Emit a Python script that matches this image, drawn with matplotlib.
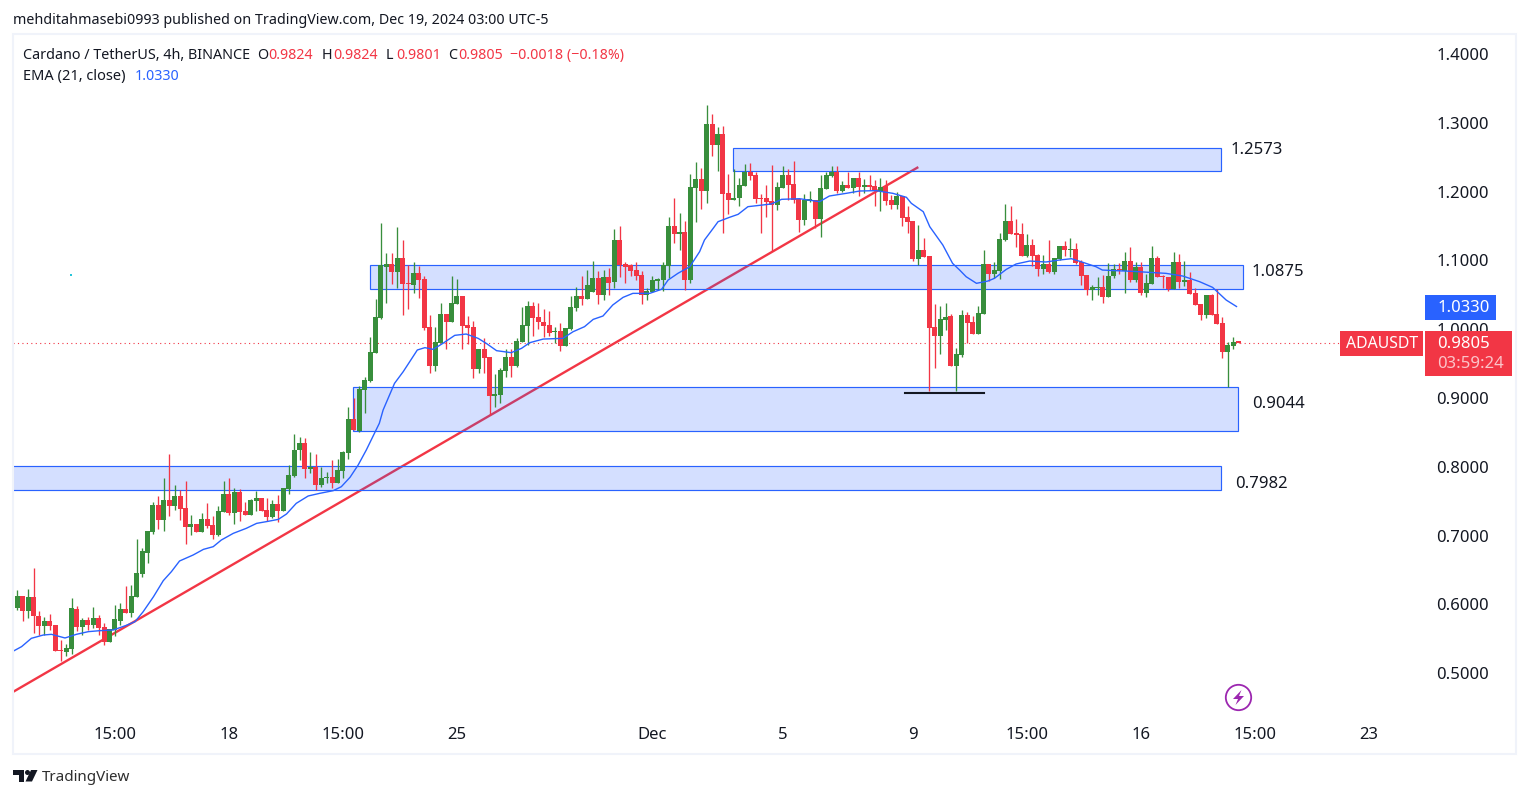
import numpy as np
import matplotlib
matplotlib.use("Agg")
import matplotlib.pyplot as plt
from matplotlib.patches import Rectangle, Circle, Polygon

plt.rcParams['font.family'] = ['Noto Sans', 'DejaVu Sans']

GREEN = '#388E3C'
RED = '#F23645'
BLUE = '#2962FF'
INK = '#131722'

opens = [.5952,.6122,.5909,.6103,.5836,.5686,.5754,.5701,.5333,.5308,
         .5351,.5933,.5671,.5768,.5701,.5802,.5671,.5454,.5628,.5759,
         .5933,.5875,.6107,.6442,.6747,.7052,.7445,.7227,.7517,.7430,
         .7576,.7401,.7125,.7169,.7052,.7241,.7154,.7009,.7343,.7605,
         .7328,.7634,.7358,.7299,.7503,.7546,.7372,.7270,.7459,.7358,
         .7677,.7866,.8244,.8346,.7968,.7997,.7735,.7837,.7852,.7765,
         .7939,.8201,.8695,.8520,.9116,.9247,.9654,1.0163,1.0904,1.0948,
         1.0831,1.1035,1.0671,1.0642,1.0817,1.0730,1.0032,.9465,.9799,1.0221,
         1.0105,1.0366,1.0483,1.0061,1.0032,.9421,.9712,.9596,.9029,.9044,
         .9393,.9596,.9465,.9814,1.0047,1.0337,1.0177,1.0105,1.0061,.9959,
         .9974,.9756,1.0003,1.0308,1.0483,1.0439,1.0541,1.0744,1.0497,1.0759,
         1.0686,1.1296,1.0948,1.0933,1.0860,1.0788,1.0497,1.0541,1.0701,1.0715,
         1.0919,1.1500,1.1384,1.1413,1.0715,1.2052,1.2183,1.2009,1.2983,1.2677,
         1.2837,1.1980,1.1878,1.1907,1.2081,1.2285,1.2241,1.1907,1.1907,1.1863,
         1.1805,1.2052,1.2241,1.2110,1.1892,1.1587,1.1863,1.1878,1.1602,1.2038,
         1.2227,1.2285,1.2009,1.2096,1.2052,1.2198,1.2067,1.2096,1.2081,1.2009,
         1.2081,1.1878,1.1805,1.1936,1.1631,1.1573,1.1020,1.1151,1.1064,1.0032,
         .9901,1.0134,1.0192,.9465,.9625,1.0206,1.0105,.9930,1.0221,1.0948,
         1.0802,1.0846,1.1297,1.1573,1.1398,1.1384,1.1064,1.1224,1.1078,1.0875,
         1.0948,1.0831,1.1020,1.1209,1.1151,1.1166,1.0977,1.0788,1.0570,1.0599,
         1.0613,1.0468,1.0773,1.0875,1.0846,1.0991,1.0715,1.0904,1.0526,1.0657,
         1.1035,1.0773,1.0759,1.0584,1.0977,1.0686,1.0715,1.0526,1.0366,1.0206,
         1.0497,1.0221,1.0090,.9668,.9756,.9824]
highs = [.6209,.6122,.6219,.6529,.5899,.5817,.5860,.5701,.5483,.5424,
         .6088,.5977,.5797,.5812,.5962,.5846,.5730,.5642,.5991,.6016,
         .6267,.6282,.6951,.6820,.7067,.7488,.7576,.7837,.8186,.7735,
         .7663,.7794,.7299,.7169,.7324,.7474,.7285,.7430,.7794,.7837,
         .7692,.7677,.7488,.7532,.7648,.7546,.7546,.7517,.7590,.7692,
         .8026,.8477,.8438,.8414,.8215,.8186,.7997,.7924,.8099,.8113,
         .8230,.8869,.9000,.9174,.9300,.9887,1.0439,1.1544,1.1108,1.1108,
         1.1486,1.1296,1.0933,1.0977,1.0919,1.0773,1.0206,1.0032,1.0381,1.0221,
         1.0773,1.0730,1.0483,1.0192,1.0119,.9712,.9872,.9596,.9349,.9436,
         .9712,.9712,.9872,1.0323,1.0410,1.0395,1.0381,1.0294,1.0265,1.0032,
         1.0090,1.0017,1.0483,1.0613,1.0773,1.0860,1.0991,1.0846,1.0860,1.0890,
         1.1456,1.1500,1.0977,1.0948,1.0977,1.0846,1.0599,1.0773,1.0744,1.0977,
         1.1631,1.1907,1.1689,1.1573,1.2256,1.2430,1.2343,1.3259,1.3128,1.2939,
         1.2954,1.2256,1.2329,1.2198,1.2401,1.2416,1.2285,1.1965,1.2096,1.2387,
         1.2140,1.2372,1.2329,1.2445,1.1892,1.1965,1.2009,1.1878,1.2241,1.2285,
         1.2372,1.2372,1.2154,1.2285,1.2198,1.2285,1.2183,1.2241,1.2169,1.2198,
         1.2169,1.1951,1.1994,1.1936,1.1791,1.1573,1.1515,1.1326,1.1064,1.0366,
         1.0337,1.0381,1.0221,.9727,1.0279,1.0250,1.0192,1.0337,1.1151,1.0948,
         1.0977,1.1398,1.1820,1.1791,1.1602,1.1544,1.1384,1.1311,1.1093,1.1078,
         1.1296,1.1035,1.1209,1.1282,1.1326,1.1253,1.1006,1.0788,1.0642,1.0759,
         1.0788,1.0962,1.0948,1.0962,1.1122,1.1195,1.0977,1.0977,1.0802,1.1209,
         1.1064,1.0788,1.0759,1.1122,1.1093,1.0991,1.0831,1.0599,1.0366,1.0497,
         1.0512,1.0584,1.0177,.9814,.9886,.9824]
lows = [.5919,.5759,.5807,.5589,.5555,.5550,.5628,.5328,.5177,.5250,
        .5284,.5613,.5555,.5628,.5652,.5555,.5410,.5454,.5541,.5701,
        .5875,.5817,.6107,.6398,.6602,.7023,.7096,.7067,.7285,.7372,
        .7227,.6878,.7009,.7052,.7052,.7110,.6951,.6994,.7343,.7299,
        .7169,.7212,.7299,.7299,.7358,.7358,.7212,.7256,.7198,.7358,
        .7605,.7852,.8099,.7837,.7910,.7663,.7706,.7760,.7692,.7765,
        .7837,.8113,.8535,.8506,.8782,.9233,.9654,1.0148,1.0381,1.0657,
        1.0599,1.0206,1.0294,1.0526,1.0454,.9988,.9363,.9393,.9799,.9712,
        1.0105,1.0366,.9712,.9785,.9291,.9363,.9363,.8753,.8869,.8927,
        .9305,.9305,.9451,.9814,.9770,.9901,1.0003,.9887,.9901,.9799,
        .9683,.9756,.9988,1.0265,1.0352,1.0439,1.0541,1.0366,1.0424,1.0497,
        1.0599,1.0759,1.0671,1.0773,1.0715,1.0366,1.0424,1.0541,1.0570,1.0555,
        1.0744,1.1253,1.1151,1.0570,1.0672,1.1558,1.1747,1.1834,1.2517,1.2299,
        1.1398,1.1674,1.1878,1.1791,1.2081,1.2169,1.1834,1.1398,1.1631,1.1137,
        1.1733,1.2052,1.1878,1.1834,1.1413,1.1515,1.1849,1.1471,1.1340,1.2038,
        1.2212,1.1980,1.1995,1.2052,1.1980,1.1936,1.1980,1.2023,1.1791,1.1718,
        1.1805,1.1747,1.1747,1.1500,1.1398,1.0991,1.0933,1.1049,.9102,.9436,
        .9640,.9988,.9465,.9102,.9596,.9794,.9930,.9930,1.0221,1.0701,
        1.0744,1.0730,1.1282,1.1384,1.1195,1.1064,1.1049,1.0919,1.0773,1.0802,
        1.0817,1.0802,1.1006,1.1064,1.1049,1.0948,1.0642,1.0497,1.0424,1.0497,
        1.0381,1.0468,1.0744,1.0802,1.0526,1.0686,1.0686,1.0497,1.0468,1.0657,
        1.0759,1.0599,1.0555,1.0584,1.0599,1.0628,1.0512,1.0352,1.0134,1.0163,
        1.0206,1.0076,.9581,.9160,.9712,.9801]
closes = [.6122,.5909,.6103,.5836,.5686,.5754,.5686,.5328,.5328,.5366,
          .5948,.5671,.5768,.5701,.5802,.5657,.5454,.5642,.5788,.5933,
          .5875,.6122,.6456,.6776,.7067,.7445,.7227,.7517,.7430,.7576,
          .7387,.7125,.7169,.7052,.7241,.7140,.7009,.7358,.7605,.7328,
          .7634,.7343,.7299,.7517,.7546,.7358,.7270,.7459,.7358,.7692,
          .7881,.8244,.8346,.7968,.7997,.7735,.7837,.7852,.7765,.7953,
          .8215,.8695,.8535,.9131,.9262,.9669,1.0177,1.0933,1.0948,1.0831,
          1.1035,1.0657,1.0657,1.0817,1.0715,1.0017,.9465,.9814,1.0221,1.0105,
          1.0381,1.0483,1.0047,1.0017,.9421,.9712,.9581,.9029,.9058,.9407,
          .9596,.9465,.9829,1.0061,1.0337,1.0163,1.0105,1.0047,.9945,.9974,
          .9756,1.0017,1.0323,1.0483,1.0439,1.0642,1.0744,1.0497,1.0759,1.0671,
          1.1296,1.0933,1.0904,1.0846,1.0773,1.0497,1.0555,1.0715,1.0730,1.0933,
          1.1500,1.1384,1.1413,1.0715,1.2067,1.2183,1.2009,1.2983,1.2677,1.2837,
          1.1965,1.1878,1.1907,1.2096,1.2285,1.2227,1.1892,1.1892,1.1849,1.1805,
          1.2067,1.2241,1.2096,1.1878,1.1587,1.1878,1.1892,1.1602,1.2052,1.2241,
          1.2285,1.2009,1.2096,1.2052,1.2198,1.2067,1.2096,1.2067,1.2009,1.2067,
          1.1863,1.1805,1.1936,1.1616,1.1558,1.1020,1.1151,1.1049,1.0017,.9901,
          1.0148,1.0177,.9465,.9640,1.0206,1.0090,.9930,1.0235,1.0948,1.0802,
          1.0860,1.1311,1.1573,1.1384,1.1369,1.1064,1.1224,1.1064,1.0875,1.0948,
          1.0831,1.1035,1.1209,1.1151,1.1166,1.0962,1.0773,1.0570,1.0613,1.0613,
          1.0468,1.0773,1.0875,1.0860,1.0991,1.0715,1.0904,1.0526,1.0671,1.1035,
          1.0759,1.0759,1.0584,1.0977,1.0686,1.0715,1.0512,1.0352,1.0206,1.0497,
          1.0206,1.0076,.9668,.9770,.9814,.9805]

# EMA at the bends of the line
ema_x = [-0.7,0.8,2.6,4.8,6.3,8.8,10.9,13.1,15.2,17.7,20.1,21.7,23.2,25.1,26.9,28.4,29.9,32.4,34.3,36.1,
         37.6,39.8,42.2,44.1,45.9,48.1,49.6,51.4,53.6,55.7,58.2,59.7,61.3,62.8,64.3,66.7,67.4,69.5,71.1,72.3,
         73.7,75.1,76.6,78.4,80.6,82.7,84.9,86.4,88.3,91.0,92.9,94.4,96.9,100.5,102.4,104.5,106.1,107.9,109.7,111.6,
         113.4,116.5,118.7,119.9,121.7,123.9,125.7,126.6,128.2,129.1,131.2,132.8,134.6,138.9,140.8,144.1,147.8,149.6,152.7,155.2,
         158.2,161.3,163.8,164.7,166.9,168.1,170.5,172.3,173.6,174.8,176.7,178.8,180.0,182.2,184.0,186.5,189.5,192.0,194.2,196.3,
         198.7,199.9,202.4,205.5,208.6,211.6,214.7,217.8,220.2,222.7,224.6]
ema_y = [.5322,.5386,.5507,.5555,.5565,.5512,.5565,.5604,.5618,.5628,.5696,.5749,.5894,.6112,.6345,.6476,.6631,.6718,.6800,.6839,
         .6936,.7033,.7106,.7178,.7203,.7236,.7314,.7469,.7576,.7614,.7653,.7711,.7847,.8026,.8244,.8632,.8826,.9213,.9383,.9528,
         .9698,.9732,.9707,.9794,.9911,.9930,.9867,.9794,.9688,.9659,.9722,.9804,.9857,.9867,.9964,1.0037,1.0143,1.0192,1.0352,1.0463,
         1.0521,1.0521,1.0580,1.0715,1.0812,1.0909,1.1127,1.1297,1.1466,1.1563,1.1626,1.1670,1.1781,1.1820,1.1888,1.1897,1.1854,1.1936,1.1975,1.2009,
         1.2014,1.1975,1.1917,1.1830,1.1708,1.1490,1.1224,1.0957,1.0860,1.0763,1.0667,1.0700,1.0739,1.0870,1.0948,1.0991,1.0977,1.1006,1.1025,1.0972,
         1.0909,1.0860,1.0851,1.0841,1.0826,1.0812,1.0773,1.0691,1.0608,1.0424,1.0330]

# drawings on the chart: left, right, top, bottom
zone_left = [131.8, 65.0, 61.9, -5.0]
zone_right = [221.8, 225.8, 224.9, 221.8]
zone_top = [1.2629, 1.0930, 0.9153, 0.8012]
zone_bottom = [1.2295, 1.0580, 0.8520, 0.7663]
trend_x = [-0.8, 165.8]
trend_y = [0.4727, 1.2348]
low_line_x = [163.6, 178.0]
low_line_y = [0.9077, 0.9077]

last_price = 0.9805
time_ticks = [18, 39, 60, 81, 117, 141, 165, 186, 207, 228, 249]
time_labels = ['15:00', '18', '15:00', '25', 'Dec', '5', '9', '15:00', '16', '15:00', '23']
price_ticks = [0.5, 0.6, 0.7, 0.8, 0.9, 1.0, 1.1, 1.2, 1.3, 1.4]

W, H = 1529, 798
fig = plt.figure(figsize=(W / 100, H / 100), dpi=100, facecolor='white')
ax = fig.add_axes([13 / W, (H - 716) / H, (1424 - 13) / W, (716 - 34) / H])
ax.set_xlim(-0.78, 259.14)
ax.set_ylim(0.43779, 1.4291)
for s in ax.spines.values():
    s.set_visible(False)

ax.plot(trend_x, trend_y, color=RED, lw=1.7, zorder=1)
for l, r, t, b in zip(zone_left, zone_right, zone_top, zone_bottom):
    ax.add_patch(Rectangle((l, b), r - l, t - b, facecolor=(0.161, 0.384, 1, 0.2),
                           edgecolor=BLUE, lw=0.85, zorder=2))

o, h, l, c = map(np.array, (opens, highs, lows, closes))
x = np.arange(len(o))
cols = [GREEN if b >= a else RED for a, b in zip(o, c)]
ax.vlines(x, l, h, colors=cols, lw=0.95, zorder=3)
ax.bar(x, np.maximum(np.abs(c - o), 0.0016), bottom=np.minimum(o, c), width=0.92,
       color=cols, linewidth=0, zorder=3)

ax.plot(ema_x, ema_y, color=BLUE, lw=1.0, zorder=4)
ax.plot(low_line_x, low_line_y, color=INK, lw=1.5, zorder=4)
ax.axhline(last_price, color=RED, lw=0.8, ls=(0, (1, 3)), xmax=(1340 - 13) / (1424 - 13), zorder=2)
ax.plot([9.9], [1.0788], marker='s', ms=1.5, color='#26C6DA', mew=0)

ax.yaxis.tick_right()
ax.set_yticks(price_ticks)
ax.set_yticklabels(['%.4f' % p for p in price_ticks])
ax.set_xticks(time_ticks)
ax.set_xticklabels(time_labels)
ax.tick_params(length=0, labelsize=12, labelcolor=INK)
ax.tick_params(axis='y', pad=9)
ax.tick_params(axis='x', pad=8)
ax.get_xticklabels()[4].set_fontweight('bold')

# page furniture in pixel coordinates
ov = fig.add_axes([0, 0, 1, 1], facecolor='none')
ov.set_xlim(0, W)
ov.set_ylim(H, 0)
ov.axis('off')

ov.add_patch(Rectangle((13, 34), 1502.5, 719.5, fill=False, edgecolor='#F0F3FA', lw=1.5))


def txt(px, py, s, color=INK, size=10.25, ha='left', **kw):
    ov.text(px, py + 1.5, s, color=color, fontsize=size, ha=ha, va='center', **kw)


txt(13, 19, 'mehditahmasebi0993 published on TradingView.com, Dec 19, 2024 03:00 UTC-5')
txt(23, 54, 'Cardano / TetherUS, 4h, BINANCE', size=10.35)
for px, s in [(257, 'O'), (322, 'H'), (386, 'L'), (448, 'C')]:
    txt(px, 54, s)
for px, s in [(268, '0.9824'), (333, '0.9824'), (396, '0.9801'), (458, '0.9805'),
              (510, '\u22120.0018 (\u22120.18%)')]:
    txt(px, 54, s, color=RED)
txt(23, 75, 'EMA (21, close)', size=10.5)
txt(135, 75, '1.0330', color=BLUE)

txt(1231, 148, '1.2573', size=12)
txt(1252, 271, '1.0875', size=12)
txt(1252, 402, '0.9044', size=12)
txt(1235, 483, '0.7982', size=12)

ov.add_patch(Rectangle((1425, 295), 70.5, 25, facecolor=BLUE, edgecolor='none'))
txt(1490, 306.5, '1.0330', color='white', size=12, ha='right')
ov.add_patch(Rectangle((1340, 331), 83, 25, facecolor=RED, edgecolor='none'))
txt(1382, 342.5, 'ADAUSDT', color='white', size=11.4, ha='center')
ov.add_patch(Rectangle((1425, 331), 87, 45, facecolor=RED, edgecolor='none'))
txt(1437, 342.5, '0.9805', color='white', size=12)
txt(1437, 363, '03:59:24', color='#FBC4C9', size=12)

ov.add_patch(Circle((1238.5, 697.5), 12.7, fill=False, edgecolor='#9C27B0', lw=1.3))
ov.add_patch(Polygon([(1241.5, 690), (1233, 699), (1238, 699), (1235.5, 705), (1244, 696), (1239, 696)],
                     facecolor='#9C27B0', edgecolor='none'))

ov.add_patch(Polygon([(13, 770), (24, 770), (24, 781.5), (18.5, 781.5), (18.5, 775), (13, 775)],
                     facecolor=INK, edgecolor='none'))
ov.add_patch(Circle((27.5, 772.5), 2.5, facecolor=INK, edgecolor='none'))
ov.add_patch(Polygon([(31, 770), (37.5, 770), (32, 781.5), (25.5, 781.5)], facecolor=INK, edgecolor='none'))
txt(42, 776, 'TradingView', color='#2E2E2E', size=10.9)

fig.savefig('out.png', dpi=100, facecolor='white')
